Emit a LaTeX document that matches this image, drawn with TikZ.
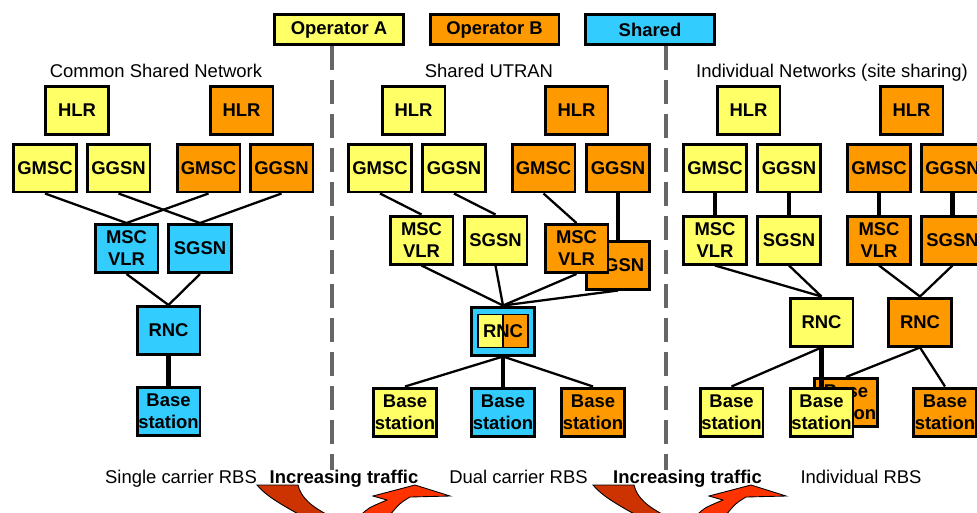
\documentclass[tikz,border=0pt]{standalone}
\usepackage{fontspec}
\setmainfont{Liberation Sans}

\definecolor{yellowA}{HTML}{FFFF66}
\definecolor{orangeB}{HTML}{FF9900}
\definecolor{blueS}{HTML}{33CCFF}
\definecolor{sepgray}{HTML}{666666}
\definecolor{arrowdark}{HTML}{CC3300}
\definecolor{arrowbright}{HTML}{FF3300}

\begin{document}
\begin{tikzpicture}[x=0.02cm, y=-0.02cm, font=\fontsize{10.5}{12.5}\selectfont]
            % Estilos
            \tikzstyle{box}=[draw, line width=1.7pt, minimum width=1.26cm, minimum height=0.96cm, inner sep=0pt, align=center, font=\fontsize{10.5}{12.5}\selectfont\bfseries]
            \tikzstyle{legend}=[box, minimum width=2.58cm, minimum height=0.6cm]
            \tikzstyle{link}=[line width=1.3pt]
            \tikzstyle{trunk}=[line width=2.3pt]
            \tikzstyle{sep}=[draw=sepgray, line width=2.3pt, dash pattern=on 0.48cm off 0.2cm]
            \tikzstyle{ribbon}=[draw, line width=0.5pt]

            \clip (0,0) rectangle (977,512);

            % Legenda
            \node[legend, fill=yellowA] (legA) at (339,29.5) {Operator A};
            \node[legend, fill=orangeB] (legB) at (494.5,29.5) {Operator B};
            \node[legend, fill=blueS] (legS) at (650,29.5) {Shared};

            % Separadores
            \coordinate (sepAend) at (332,470);
            \coordinate (sepBend) at (666,470);
            \draw[sep] (legA.south -| sepAend) -- (sepAend);
            \draw[sep] (legS.south -| sepBend) -- (sepBend);

            % Titulos
            \node[anchor=base] (titCommon) at (156,77) {Common Shared Network};
            \node[anchor=base] (titUtran) at (489,77) {Shared UTRAN};
            \node[anchor=base] (titIndiv) at (832,77) {Individual Networks (site sharing)};

            % Nos: rede comum
            \node[box, fill=yellowA] (hlrAa) at (77,110.5) {HLR};
            \node[box, fill=orangeB] (hlrBa) at (241.5,110.5) {HLR};
            \node[box, fill=yellowA] (gmscAa) at (45,168) {GMSC};
            \node[box, fill=yellowA] (ggsnAa) at (118.5,168) {GGSN};
            \node[box, fill=orangeB] (gmscBa) at (208.5,168) {GMSC};
            \node[box, fill=orangeB] (ggsnBa) at (281.5,168) {GGSN};
            \node[box, fill=blueS] (mscS) at (126.5,248.5) {MSC\\VLR};
            \node[box, fill=blueS] (sgsnS) at (200,248.5) {SGSN};
            \node[box, fill=blueS] (rncS) at (168.5,330.5) {RNC};
            \node[box, fill=blueS] (bsS) at (168.5,411.5) {Base\\station};

            % Nos: UTRAN compartilhada
            \node[box, fill=yellowA] (hlrAb) at (413.5,110.5) {HLR};
            \node[box, fill=orangeB] (hlrBb) at (576.5,110.5) {HLR};
            \node[box, fill=yellowA] (gmscAb) at (380,168) {GMSC};
            \node[box, fill=yellowA] (ggsnAb) at (454,168) {GGSN};
            \node[box, fill=orangeB] (gmscBb) at (543.5,168) {GMSC};
            \node[box, fill=orangeB] (ggsnBb) at (618,168) {GGSN};
            \node[box, fill=yellowA] (mscAb) at (421.5,240) {MSC\\VLR};
            \node[box, fill=yellowA] (sgsnAb) at (495.5,240) {SGSN};
            \node[box, fill=orangeB] (sgsnBb) at (618,265) {SGSN};
            \node[box, fill=orangeB] (mscBb) at (576.5,248.5) {MSC\\VLR};
            \node[box, fill=blueS] (rncb) at (503,331) {};
            \node[draw, line width=0.6pt, minimum width=1.0cm, minimum height=0.66cm, inner sep=0pt,
                  font=\fontsize{10.5}{12.5}\selectfont\bfseries,
                  path picture={
                    \fill[yellowA] (path picture bounding box.south west) rectangle (path picture bounding box.north);
                    \fill[orangeB] (path picture bounding box.south) rectangle (path picture bounding box.north east);
                    \draw[line width=0.6pt] (path picture bounding box.south) -- (path picture bounding box.north);
                  }] (rncbin) at (rncb) {RNC};
            \node[box, fill=yellowA] (bsAb) at (405,412) {Base\\station};
            \node[box, fill=blueS] (bsSb) at (503,412) {Base\\station};
            \node[box, fill=orangeB] (bsBb) at (593,412) {Base\\station};

            % Nos: redes individuais
            \node[box, fill=yellowA] (hlrAc) at (748.5,110.5) {HLR};
            \node[box, fill=orangeB] (hlrBc) at (911.5,110.5) {HLR};
            \node[box, fill=yellowA] (gmscAc) at (715,168) {GMSC};
            \node[box, fill=yellowA] (ggsnAc) at (789,168) {GGSN};
            \node[box, fill=orangeB] (gmscBc) at (879,168) {GMSC};
            \node[box, fill=orangeB] (ggsnBc) at (952.5,168) {GGSN};
            \node[box, fill=yellowA] (mscAc) at (715,240) {MSC\\VLR};
            \node[box, fill=yellowA] (sgsnAc) at (789,240) {SGSN};
            \node[box, fill=orangeB] (mscBc) at (879,240) {MSC\\VLR};
            \node[box, fill=orangeB] (sgsnBc) at (952.5,240) {SGSN};
            \node[box, fill=yellowA] (rncAc) at (821.5,322) {RNC};
            \node[box, fill=orangeB] (rncBc) at (920,322) {RNC};
            \node[box, fill=orangeB] (bsBc1) at (846,402.5) {Base\\station};
            \node[box, fill=yellowA] (bsAc1) at (731.5,412) {Base\\station};
            \node[box, fill=yellowA] (bsAc2) at (821.5,412) {Base\\station};
            \node[box, fill=orangeB] (bsBc2) at (945,412) {Base\\station};

            % Arestas: rede comum
            \draw[link] (gmscAa.south) -- (mscS.north);
            \draw[link] (gmscBa.south) -- (mscS.north);
            \draw[link] (ggsnAa.south) -- (sgsnS.north);
            \draw[link] (ggsnBa.south) -- (sgsnS.north);
            \draw[link] (mscS.south) -- (rncS.north);
            \draw[link] (sgsnS.south) -- (rncS.north);
            \draw[trunk] (rncS) -- (bsS);

            % Arestas: UTRAN compartilhada
            \draw[link] (gmscAb.south) -- (mscAb.north);
            \draw[link] (ggsnAb.south) -- (sgsnAb.north);
            \draw[link] (gmscBb.south) -- (mscBb.north);
            \draw[trunk] (ggsnBb) -- (sgsnBb);
            \draw[link] (mscAb.south) -- (rncb.north);
            \draw[link] (sgsnAb.south) -- (rncb.north);
            \draw[link] (mscBb.south) -- (rncb.north);
            \draw[link] (sgsnBb.south) -- (rncb.north);
            \draw[link] (rncb.south) -- (bsAb.north);
            \draw[trunk] (rncb) -- (bsSb);
            \draw[link] (rncb.south) -- (bsBb.north);

            % Arestas: redes individuais
            \draw[trunk] (gmscAc) -- (mscAc);
            \draw[trunk] (ggsnAc) -- (sgsnAc);
            \draw[trunk] (gmscBc) -- (mscBc);
            \draw[trunk] (ggsnBc) -- (sgsnBc);
            \draw[link] (mscAc.south) -- (rncAc.north);
            \draw[link] (sgsnAc.south) -- (rncAc.north);
            \draw[link] (mscBc.south) -- (rncBc.north);
            \draw[link] (sgsnBc.south) -- (rncBc.north);
            \draw[link] (rncAc.south) -- (bsAc1.north);
            \draw[trunk] (rncAc.south) -- (bsAc2.north);
            \draw[link] (rncBc.south) -- (bsBc1.north);
            \draw[link] (rncBc.south) -- (bsBc2.north);

            % Setas de trafego
            \foreach \dx in {0,336} {
              \begin{scope}[shift={(\dx,0)}]
                \filldraw[ribbon, fill=arrowdark] (257,485) -- (298,485)
                  .. controls (301,498) and (312,507) .. (330,516) -- (302,516)
                  .. controls (282,505) and (266,496) .. (257,485) -- cycle;
                \filldraw[ribbon, fill=arrowbright] (360,516)
                  .. controls (368,508) .. (387,500)
                  -- (373,496) -- (415,485) -- (450,496) -- (410,497)
                  .. controls (400,503) .. (389,516) -- cycle;
              \end{scope}
            }

            % Anotacoes
            \node[anchor=base] (txtSingle) at (181,483) {Single carrier RBS};
            \node[anchor=base, font=\fontsize{10.5}{12.5}\selectfont\bfseries] (txtTrafA) at (344,483) {Increasing traffic};
            \node[anchor=base] (txtDual) at (518.5,483) {Dual carrier RBS};
            \node[anchor=base, font=\fontsize{10.5}{12.5}\selectfont\bfseries] (txtTrafB) at (687.5,483) {Increasing traffic};
            \node[anchor=base] (txtIndiv) at (861,483) {Individual RBS};
        \end{tikzpicture}
\end{document}
